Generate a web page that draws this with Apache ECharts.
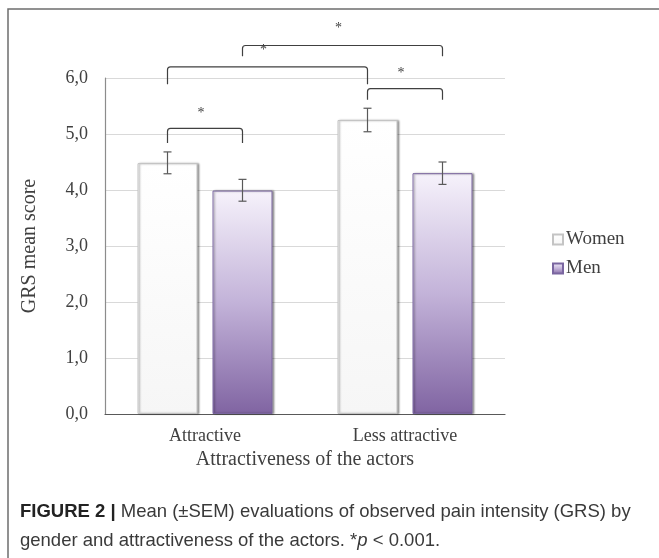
<!DOCTYPE html>
<html>
<head>
<meta charset="utf-8">
<script src="https://cdn.jsdelivr.net/npm/echarts@6/dist/echarts.min.js"></script>
<style>
  html, body { margin: 0; padding: 0; background: #fff; }
  #main { width: 659px; height: 558px; }
</style>
</head>
<body>
<div id="main"></div>
<script>
// categories and series
var categories = ['Attractive', 'Less attractive'];
var womenMean = [4.48, 5.25];
var menMean = [3.99, 4.30];
// SEM range (low / high)
var womenLow = [4.29, 5.04];
var womenHigh = [4.68, 5.46];
var menLow = [3.80, 4.10];
var menHigh = [4.19, 4.50];
// significance brackets: from (cat, series) to (cat, series), bar top, leg end, star height
var bracketFromCat = [0, 0, 0, 1];
var bracketFromSer = [0, 0, 1, 0];
var bracketToCat = [0, 1, 1, 1];
var bracketToSer = [1, 0, 1, 1];
var bracketTop = [5.10, 6.20, 6.58, 5.81];
var bracketLeg = [4.84, 5.89, 6.39, 5.61];
var bracketStar = [5.375, 6.50, 6.89, 6.09];
var yTicks = [0, 1, 2, 3, 4, 5, 6];

var CAT_GAP = 0.325, BAR_GAP = 0.25;
var serif = '"Liberation Serif", "Times New Roman", serif';
var sans = '"Liberation Sans", Arial, sans-serif';

// centre of a bar, relative to its category centre
function barOffset(api, ser) {
  var w = api.size([1, 0])[0];
  var bw = w * (1 - CAT_GAP) / (2 + BAR_GAP);
  return -0.625 * bw + 1.25 * ser * bw;
}

function errorSeries(name, ser, low, high) {
  return {
    name: name,
    type: 'custom',
    z: 5,
    clip: false,
    data: categories.map(function (c, i) { return [i, low[i], high[i]]; }),
    renderItem: function (params, api) {
      var p1 = api.coord([api.value(0), api.value(1)]);
      var p2 = api.coord([api.value(0), api.value(2)]);
      var x = p1[0] + barOffset(api, ser);
      var h = 4;
      var st = { stroke: '#595959', lineWidth: 1.2 };
      return {
        type: 'group',
        children: [
          { type: 'line', shape: { x1: x, y1: p1[1], x2: x, y2: p2[1] }, style: st },
          { type: 'line', shape: { x1: x - h, y1: p1[1], x2: x + h, y2: p1[1] }, style: st },
          { type: 'line', shape: { x1: x - h, y1: p2[1], x2: x + h, y2: p2[1] }, style: st }
        ]
      };
    }
  };
}

var bracketData = bracketTop.map(function (t, i) {
  return [bracketFromCat[i], bracketFromSer[i], bracketToCat[i], bracketToSer[i], t, bracketLeg[i], bracketStar[i]];
});

var chart = echarts.init(document.getElementById('main'));
chart.setOption({
  animation: false,
  grid: { left: 105, right: 154, top: 78, bottom: 144 },
  legend: {
    data: ['Women', 'Men'],
    orient: 'vertical',
    left: 547,
    top: 225,
    icon: 'rect',
    itemWidth: 10,
    itemHeight: 10,
    itemGap: 10,
    selectedMode: false,
    textStyle: { fontFamily: serif, fontSize: 19, color: '#404040', padding: [0, 0, 0, -2] }
  },
  xAxis: {
    type: 'category',
    data: categories,
    name: 'Attractiveness of the actors',
    nameLocation: 'middle',
    nameGap: 35,
    nameTextStyle: { fontFamily: serif, fontSize: 20, color: '#404040' },
    axisLine: { lineStyle: { color: '#595959', width: 1.2 } },
    axisTick: { show: false },
    axisLabel: { fontFamily: serif, fontSize: 18, color: '#404040', margin: 13 }
  },
  yAxis: {
    type: 'value',
    min: 0,
    max: 6,
    interval: 1,
    name: 'GRS mean score',
    nameLocation: 'middle',
    nameGap: 65,
    nameTextStyle: { fontFamily: serif, fontSize: 20, color: '#404040' },
    axisLine: { show: true, lineStyle: { color: '#8c8c8c', width: 1.2 } },
    axisTick: { show: false },
    splitLine: { lineStyle: { color: '#d9d9d9' } },
    axisLabel: {
      fontFamily: serif, fontSize: 18, color: '#404040', margin: 17,
      formatter: function (v) { return yTicks.indexOf(v) >= 0 ? v.toFixed(1).replace('.', ',') : ''; }
    }
  },
  series: [
    {
      name: 'Women',
      type: 'bar',
      data: womenMean,
      barGap: (BAR_GAP * 100) + '%',
      barCategoryGap: (CAT_GAP * 100) + '%',
      itemStyle: {
        color: new echarts.graphic.LinearGradient(0, 0, 0, 1, [
          { offset: 0, color: '#ffffff' }, { offset: 1, color: '#f6f6f6' }
        ]),
        borderColor: '#c4c4c4',
        borderWidth: 1,
        shadowColor: 'rgba(0,0,0,0.35)',
        shadowBlur: 2,
        shadowOffsetX: 1.5
      }
    },
    {
      name: 'Men',
      type: 'bar',
      data: menMean,
      itemStyle: {
        color: new echarts.graphic.LinearGradient(0, 0, 0, 1, [
          { offset: 0, color: '#f6f2fb' }, { offset: 0.5, color: '#c3b3d9' }, { offset: 1, color: '#8064a2' }
        ]),
        borderColor: '#7a66a0',
        borderWidth: 1,
        shadowColor: 'rgba(0,0,0,0.35)',
        shadowBlur: 2,
        shadowOffsetX: 1.5
      }
    },
    errorSeries('Women SEM', 0, womenLow, womenHigh),
    errorSeries('Men SEM', 1, menLow, menHigh),
    {
      name: 'Significance',
      type: 'custom',
      z: 6,
      clip: false,
      data: bracketData,
      renderItem: function (params, api) {
        var xa = api.coord([api.value(0), 0])[0] + barOffset(api, api.value(1));
        var xb = api.coord([api.value(2), 0])[0] + barOffset(api, api.value(3));
        var yt = api.coord([0, api.value(4)])[1];
        var yl = api.coord([0, api.value(5)])[1];
        var ys = api.coord([0, api.value(6)])[1];
        var r = 3;
        var d = 'M' + xa + ' ' + yl + ' L' + xa + ' ' + (yt + r) +
          ' Q' + xa + ' ' + yt + ' ' + (xa + r) + ' ' + yt +
          ' L' + (xb - r) + ' ' + yt +
          ' Q' + xb + ' ' + yt + ' ' + xb + ' ' + (yt + r) +
          ' L' + xb + ' ' + yl;
        return {
          type: 'group',
          children: [
            { type: 'path', shape: { pathData: d }, style: { fill: null, stroke: '#404040', lineWidth: 1.2 } },
            { type: 'text', x: (xa + xb) / 2 - 4, y: ys,
              style: { text: '*', fontFamily: serif, fontSize: 14, fill: '#404040', align: 'center', verticalAlign: 'middle' } }
          ]
        };
      }
    }
  ],
  graphic: [
    {
      type: 'polyline',
      shape: { points: [[8, 560], [8, 9], [662, 9]] },
      style: { stroke: '#6e6e6e', lineWidth: 1.5, fill: null }
    },
    {
      type: 'text',
      left: 20,
      top: 497,
      style: {
        text: '{b|FIGURE 2 |} Mean (\u00B1SEM) evaluations of observed pain intensity (GRS) by\ngender and attractiveness of the actors. *{i|p} < 0.001.',
        fontFamily: sans,
        fontSize: 18.5,
        lineHeight: 29,
        fill: '#3a3a3a',
        rich: {
          b: { fontWeight: 'bold', fontFamily: sans, fontSize: 18.5, fill: '#222222', lineHeight: 29 },
          i: { fontStyle: 'italic', fontFamily: sans, fontSize: 18.5, fill: '#3a3a3a', lineHeight: 29 }
        }
      }
    }
  ]
});
</script>
</body>
</html>
